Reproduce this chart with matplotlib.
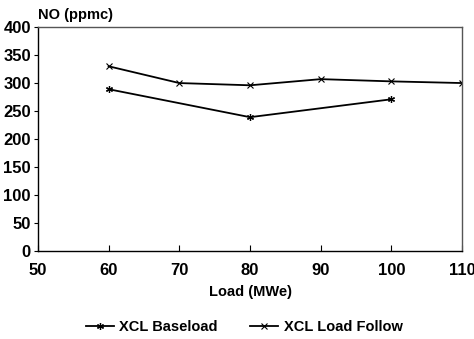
import numpy as np
import matplotlib.pyplot as plt

# Data
load_base = [60, 80, 100]
no_base = [289, 239, 271]

load_follow = [60, 70, 80, 90, 100, 110]
no_follow = [330, 300, 296, 307, 303, 300]

x_ticks = [50, 60, 70, 80, 90, 100, 110]
y_ticks = [0, 50, 100, 150, 200, 250, 300, 350, 400]

plt.rcParams['font.family'] = ['Liberation Sans', 'DejaVu Sans']
plt.rcParams['font.weight'] = 'bold'

fig = plt.figure(figsize=(4.74, 3.39), dpi=100)
ax = fig.add_axes([0.080, 0.260, 0.895, 0.660])

ax.plot(load_base, no_base, color='black', lw=1.3, marker=(6, 2, 0),
        ms=5, mew=0.9, label='XCL Baseload')
ax.plot(load_follow, no_follow, color='black', lw=1.3, marker='x',
        ms=4, mew=0.8, label='XCL Load Follow')

ax.set_xlim(50, 110)
ax.set_ylim(0, 400)
ax.set_xticks(x_ticks)
ax.set_yticks(y_ticks)
ax.tick_params(axis='x', direction='in', length=4, labelsize=12, pad=9)
ax.tick_params(axis='y', direction='out', length=3, labelsize=12, pad=2)
for s in ax.spines.values():
    s.set_linewidth(1.0)
ax.spines['top'].set_color('#555555')
ax.spines['right'].set_color('#555555')

ax.set_xlabel('Load (MWe)', fontsize=10.5, fontweight='bold', labelpad=5)
fig.text(0.080, 0.936, 'NO (ppmc)', fontsize=10.5, fontweight='bold', ha='left', va='bottom')

fig.legend(loc='lower center', bbox_to_anchor=(0.515, -0.025), ncol=2, frameon=False,
           fontsize=10.5, handlelength=1.9, columnspacing=2.2, handletextpad=0.4)

fig.savefig('out.png', dpi=100)
